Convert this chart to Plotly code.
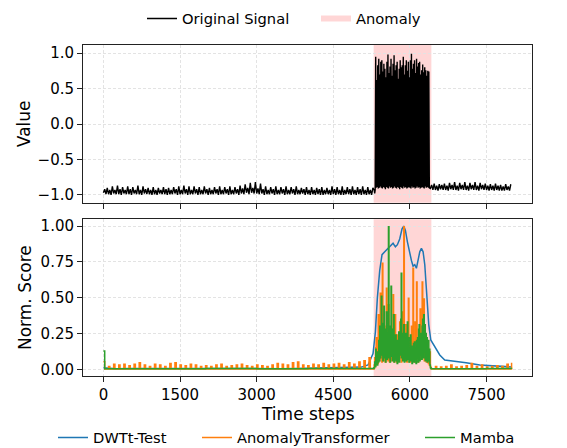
import plotly.graph_objects as go

# ---------------- data ----------------
anomaly_start = 5290
anomaly_end = 6420

# Original signal
sig_pre_start, sig_pre_step = 0, 25
sig_pre = [
    -0.97, -0.92, -0.99, -0.90,  -0.99, -0.93, -1.00, -0.88,  -0.98, -0.93, -0.99, -0.87,  -0.99, -0.92, -1.00, -0.89,
    -0.98, -0.93, -0.99, -0.88,  -0.99, -0.92, -1.00, -0.89,  -0.98, -0.93, -0.99, -0.87,  -0.99, -0.93, -1.00, -0.88,
    -0.98, -0.92, -0.99, -0.90,  -0.99, -0.93, -1.00, -0.89,  -0.99, -0.93, -1.00, -0.90,  -0.98, -0.93, -0.99, -0.89,
    -0.99, -0.92, -1.00, -0.90,  -0.99, -0.93, -0.99, -0.89,  -0.98, -0.92, -1.00, -0.88,  -0.99, -0.93, -0.99, -0.87,
    -0.98, -0.92, -1.00, -0.88,  -0.99, -0.93, -0.99, -0.88,  -0.98, -0.92, -1.00, -0.89,  -0.99, -0.93, -0.99, -0.88,
    -0.98, -0.92, -1.00, -0.90,  -0.99, -0.93, -0.99, -0.89,  -0.98, -0.92, -1.00, -0.88,  -0.99, -0.93, -0.99, -0.89,
    -0.98, -0.92, -1.00, -0.88,  -0.99, -0.93, -0.99, -0.89,  -0.98, -0.92, -1.00, -0.87,  -0.98, -0.91, -0.99, -0.85,
    -0.97, -0.90, -0.99, -0.83,  -0.97, -0.90, -0.98, -0.82,  -0.98, -0.91, -0.99, -0.84,  -0.98, -0.92, -1.00, -0.88,
    -0.99, -0.93, -0.99, -0.89,  -0.98, -0.92, -1.00, -0.88,  -0.99, -0.93, -0.99, -0.89,  -0.98, -0.92, -1.00, -0.88,
    -0.99, -0.93, -0.99, -0.89,  -0.98, -0.92, -1.00, -0.88,  -0.99, -0.93, -0.99, -0.90,  -0.98, -0.92, -1.00, -0.89,
    -0.99, -0.93, -1.00, -0.89,  -0.99, -0.93, -1.00, -0.90,  -0.99, -0.92, -1.00, -0.89,  -1.00, -0.93, -0.99, -0.90,
    -0.99, -0.93, -1.00, -0.88,  -0.99, -0.92, -1.00, -0.89,  -0.99, -0.93, -1.00, -0.88,  -1.00, -0.93, -0.99, -0.89,
    -0.99, -0.92, -1.00, -0.88,  -0.99, -0.93, -1.00, -0.89,  -0.99, -0.92, -1.00, -0.88,  -0.99, -0.93, -1.00, -0.89,
    -0.99, -0.93, -1.00, -0.90,
]
sig_anom_start, sig_anom_step = 5300, 10
sig_anom = [
    -0.93, -0.98, -0.93,
    0.95, -0.90, 0.62, -0.89, 0.83, -0.91, 0.92, -0.90, 0.70, -0.88, 0.88, -0.90, 0.90, -0.91, 0.74, -0.89,
    0.85, -0.90, 0.78, -0.92, 0.66, -0.89, 0.88, -0.90, 0.98, -0.91, 0.72, -0.88, 0.81, -0.90, 0.92, -0.89,
    0.68, -0.91, 0.85, -0.90, 0.97, -0.88, 0.76, -0.90, 0.83, -0.91, 0.88, -0.89, 0.64, -0.90, 0.78, -0.92,
    0.90, -0.89, 0.80, -0.90, 0.83, -0.91, 0.95, -0.88, 0.70, -0.90, 0.83, -0.89, 0.90, -0.91, 0.75, -0.90,
    0.88, -0.89, 0.66, -0.90, 0.90, -0.91, 0.99, -0.88, 0.78, -0.90, 0.85, -0.89, 0.90, -0.91, 0.72, -0.90,
    0.92, -0.88, 0.81, -0.90, 0.86, -0.89, 0.88, -0.91, 0.70, -0.90, 0.76, -0.89, 0.84, -0.90, 0.73, -0.91,
    0.80, -0.88, 0.76, -0.90, 0.68, -0.89, 0.75, -0.90, 0.74, -0.90,
]
sig_post_start, sig_post_step = 6400, 25
sig_post = [
    -0.91, -0.86, -0.93, -0.84,  -0.93, -0.87, -0.94, -0.85,  -0.92, -0.86, -0.93, -0.84,  -0.93, -0.87, -0.94, -0.83,
    -0.92, -0.86, -0.93, -0.82,  -0.93, -0.87, -0.94, -0.83,  -0.92, -0.86, -0.93, -0.82,  -0.93, -0.87, -0.94, -0.83,
    -0.92, -0.86, -0.93, -0.82,  -0.93, -0.87, -0.94, -0.83,  -0.92, -0.86, -0.93, -0.84,  -0.93, -0.87, -0.94, -0.85,
    -0.93, -0.87, -0.94, -0.84,  -0.93, -0.87, -0.94, -0.86,  -0.94, -0.88, -0.94, -0.85,  -0.93, -0.88, -0.94, -0.85,
]

# DWTt-Test score
dwt_x = [0, 250, 500, 750, 1000, 1250, 1500, 1750, 2000, 2250, 2500, 2750, 3000, 3250, 3500, 3750,
         4000, 4250, 4500, 4750, 5000, 5050, 5180, 5278, 5324, 5363, 5409, 5454, 5507, 5572, 5624,
         5670, 5716, 5755, 5800, 5846, 5879, 5912, 5951, 5996, 6029, 6062, 6095, 6127, 6160, 6193,
         6225, 6258, 6291, 6323, 6369, 6408, 6486, 6584, 6682, 6800, 6912, 7100, 7368, 7650, 7990]
dwt_y = [0.010, 0.004, 0.005, 0.004, 0.006, 0.005, 0.004, 0.005, 0.006, 0.005, 0.004, 0.005, 0.006,
         0.005, 0.004, 0.005, 0.006, 0.007, 0.008, 0.010, 0.012, 0.015, 0.030, 0.110, 0.260, 0.500,
         0.690, 0.800, 0.820, 0.845, 0.860, 0.880, 0.855, 0.870, 0.910, 0.980, 1.000, 0.970, 0.890,
         0.810, 0.760, 0.720, 0.730, 0.705, 0.760, 0.820, 0.845, 0.820, 0.730, 0.540, 0.310, 0.205,
         0.160, 0.100, 0.065, 0.058, 0.053, 0.045, 0.030, 0.022, 0.016]

# AnomalyTransformer score: narrow periodic spikes outside the anomaly, dense inside
at_floor = 0.002
at_spike_step = 100
at_pre_spikes = [  # one spike every 100 steps, x = 0 .. 5200
    0.053, 0.020, 0.035, 0.030, 0.035, 0.025, 0.035, 0.045, 0.030, 0.020, 0.035, 0.030, 0.020, 0.040,
    0.045, 0.030, 0.025, 0.035, 0.030, 0.020, 0.025, 0.020, 0.030, 0.035, 0.020, 0.025, 0.030, 0.035,
    0.025, 0.020, 0.030, 0.025, 0.020, 0.030, 0.040, 0.035, 0.030, 0.045, 0.050, 0.030, 0.025, 0.035,
    0.030, 0.040, 0.030, 0.035, 0.040, 0.030, 0.045, 0.035, 0.050, 0.060, 0.080,
]
at_pre_start = 0
at_anom_start, at_anom_step = 5300, 10
at_anom = [
    0.03, 0.08, 0.02, 0.15, 0.22, 0.05, 0.12, 0.04, 0.38, 0.10, 0.06, 0.28, 0.53, 0.08, 0.20, 0.05,
    0.74, 0.12, 0.06, 0.25, 0.09, 0.18, 0.05, 0.30, 0.565, 0.10, 0.22, 0.06, 0.45, 0.12, 0.05, 0.15,
    0.19, 0.06, 0.28, 0.08, 0.14, 0.52, 0.10, 0.05, 0.20, 0.38, 0.07, 0.16, 0.05, 0.24, 0.10, 0.18,
    0.06, 0.22, 0.33, 0.08, 0.15, 0.05, 0.25, 0.12, 0.40, 0.18, 0.995, 0.10, 0.22, 0.06, 0.31, 0.14,
    0.05, 0.26, 0.10, 0.495, 0.08, 0.20, 0.05, 0.19, 0.12, 0.30, 0.06, 0.22, 0.705, 0.10, 0.15, 0.05,
    0.33, 0.12, 0.24, 0.61, 0.08, 0.18, 0.05, 0.19, 0.10, 0.28, 0.42, 0.07, 0.20, 0.12, 0.61, 0.09,
    0.30, 0.49, 0.06, 0.18, 0.10, 0.22, 0.05, 0.15, 0.08, 0.15, 0.04, 0.12, 0.03, 0.12, 0.02, 0.01,
]
at_post_start = 6500
at_post_spikes = [  # x = 6500 .. 7900
    0.020, 0.015, 0.020, 0.030, 0.015, 0.020, 0.025, 0.040, 0.020, 0.030, 0.015, 0.020, 0.025,
    0.020, 0.035,
]
at_end_x, at_end_y = 7990, 0.045

# Mamba score
mamba_pre_x = [0, 25, 1000, 2000, 3000, 4000, 5000, 5290]
mamba_pre_y = [0.128, 0.004, 0.004, 0.005, 0.004, 0.005, 0.006, 0.008]
mamba_anom_start, mamba_anom_step = 5300, 10
mamba_anom = [
    0.01, 0.05, 0.02, 0.14, 0.04, 0.10, 0.03, 0.12, 0.05, 0.20, 0.06, 0.30, 0.08, 0.25, 0.51, 0.10,
    0.32, 0.06, 0.22, 0.44, 0.08, 0.28, 0.05, 0.18, 0.40, 0.07, 0.25, 0.10, 0.995, 0.08, 0.30, 0.05,
    0.22, 0.58, 0.09, 0.28, 0.06, 0.20, 0.38, 0.05, 0.15, 0.08, 0.24, 0.06, 0.18, 0.04, 0.20, 0.08,
    0.26, 0.05, 0.22, 0.10, 0.35, 0.67, 0.08, 0.25, 0.06, 0.20, 0.31, 0.05, 0.18, 0.08, 0.25, 0.06,
    0.20, 0.33, 0.07, 0.22, 0.05, 0.15, 0.08, 0.24, 0.06, 0.16, 0.04, 0.14, 0.08, 0.18, 0.05, 0.19,
    0.07, 0.15, 0.04, 0.20, 0.08, 0.22, 0.05, 0.28, 0.31, 0.06, 0.20, 0.10, 0.25, 0.07, 0.30, 0.35,
    0.08, 0.38, 0.12, 0.31, 0.06, 0.25, 0.10, 0.22, 0.05, 0.18, 0.20, 0.06, 0.14, 0.03, 0.01, 0.005,
]
mamba_post_x = [6420, 7000, 7500, 7990]
mamba_post_y = [0.004, 0.004, 0.005, 0.004]

x_ticks = [0, 1500, 3000, 4500, 6000, 7500]
y1_ticks = [-1.0, -0.5, 0.0, 0.5, 1.0]
y2_ticks = [0.0, 0.25, 0.5, 0.75, 1.0]


def xs(start, step, vals):
    return [start + i * step for i in range(len(vals))]


def spikes(start, heights):
    # each spike: height at its time step, back to the floor 25 steps later
    px, py = [], []
    for i, h in enumerate(heights):
        x0 = start + i * at_spike_step
        px += [x0, x0 + 25]
        py += [h, at_floor]
    return px, py


sig_x = xs(sig_pre_start, sig_pre_step, sig_pre) + xs(sig_anom_start, sig_anom_step, sig_anom) + \
    xs(sig_post_start, sig_post_step, sig_post)
sig_y = sig_pre + sig_anom + sig_post

pre_x, pre_y = spikes(at_pre_start, at_pre_spikes)
post_x, post_y = spikes(at_post_start, at_post_spikes)
at_x = pre_x + xs(at_anom_start, at_anom_step, at_anom) + [6420] + post_x + [at_end_x]
at_y = pre_y + at_anom + [at_floor] + post_y + [at_end_y]

mamba_x = mamba_pre_x + xs(mamba_anom_start, mamba_anom_step, mamba_anom) + mamba_post_x
mamba_y = mamba_pre_y + mamba_anom + mamba_post_y

# ---------------- figure ----------------
# the page shows the figure with an 8px body offset, so the figure is 8px smaller
W, HH = 559.0, 440.0
FONT = "DejaVu Sans"
fig = go.Figure()

fig.add_trace(go.Scatter(x=sig_x, y=sig_y, mode="lines", name="Original Signal",
                         line=dict(color="black", width=1.4), xaxis="x", yaxis="y", legend="legend"))
fig.add_trace(go.Scatter(x=[None], y=[None], mode="none", fill="toself", name="Anomaly",
                         fillcolor="rgba(255,0,0,0.16)", xaxis="x", yaxis="y", legend="legend2"))

fig.add_trace(go.Scatter(x=dwt_x, y=dwt_y, mode="lines", name="DWTt-Test",
                         line=dict(color="#1f77b4", width=1.5), xaxis="x2", yaxis="y2", legend="legend3"))
fig.add_trace(go.Scatter(x=at_x, y=at_y, mode="lines", name="AnomalyTransformer", line_shape="hv",
                         line=dict(color="#ff7f0e", width=1.5), xaxis="x2", yaxis="y2", legend="legend4"))
fig.add_trace(go.Scatter(x=mamba_x, y=mamba_y, mode="lines", name="Mamba", line_shape="hv",
                         line=dict(color="#2ca02c", width=1.5), xaxis="x2", yaxis="y2", legend="legend5"))

for xr, yr in (("x", "y domain"), ("x2", "y2 domain")):
    fig.add_shape(type="rect", xref=xr, yref=yr,
                  x0=anomaly_start, x1=anomaly_end, y0=0, y1=1,
                  fillcolor="rgba(255,0,0,0.16)", line_width=0, layer="below")

axis_common = dict(showline=True, mirror=True, linecolor="#222", linewidth=1,
                   ticks="outside", ticklen=5, tickwidth=1, tickcolor="#222",
                   showgrid=True, gridcolor="#e3e3e3", griddash="3px,2px", gridwidth=0.8,
                   zeroline=False, automargin=False,
                   tickfont=dict(size=15, color="black", family=FONT))

H1 = [0.5236, 1.0]
H2 = [0.0, 0.4734]
PLOT_TOP, PLOT_BOTTOM = 37, 368  # figure pixels

fig.update_layout(
    width=W, height=HH,
    margin=dict(l=75, r=35, t=PLOT_TOP, b=HH - PLOT_BOTTOM, autoexpand=False),
    paper_bgcolor="white", plot_bgcolor="white",
    font=dict(family=FONT, color="black"),
    xaxis=dict(**axis_common, domain=[0, 1], anchor="y", range=[-400, 8390],
               tickvals=x_ticks, showticklabels=False, matches="x2"),
    yaxis=dict(**axis_common, domain=H1, anchor="x", range=[-1.11, 1.115],
               tickvals=y1_ticks, tickformat=".1f",
               title=dict(text="Value", font=dict(size=17, family=FONT), standoff=2)),
    xaxis2=dict(**axis_common, domain=[0, 1], anchor="y2", range=[-400, 8390],
                tickvals=x_ticks, tickformat="d"),
    yaxis2=dict(**axis_common, domain=H2, anchor="x2", range=[-0.047, 1.047],
                tickvals=y2_ticks, tickformat=".2f",
                title=dict(text="Norm. Score", font=dict(size=17, family=FONT), standoff=4)),
    showlegend=True,
)

# x-axis title ("Time steps"), centred under the plots
fig.add_annotation(text="Time steps", xref="paper", yref="paper", x=0.5,
                   y=-(406 - PLOT_BOTTOM) / (PLOT_BOTTOM - PLOT_TOP), yanchor="middle",
                   showarrow=False, font=dict(size=17, family=FONT, color="black"))

leg_common = dict(orientation="h", xref="container", yref="container", xanchor="left",
                  yanchor="middle", bgcolor="rgba(0,0,0,0)", borderwidth=0,
                  font=dict(size=14.7, family=FONT, color="black"), itemwidth=30)
fig.update_layout(
    legend=dict(**leg_common, x=134 / W, y=1 - 11 / HH),
    legend2=dict(**leg_common, x=308 / W, y=1 - 11 / HH),
    legend3=dict(**leg_common, x=45 / W, y=1 - 430 / HH),
    legend4=dict(**leg_common, x=189 / W, y=1 - 430 / HH),
    legend5=dict(**leg_common, x=412 / W, y=1 - 430 / HH),
)

fig.write_html("out.html")
